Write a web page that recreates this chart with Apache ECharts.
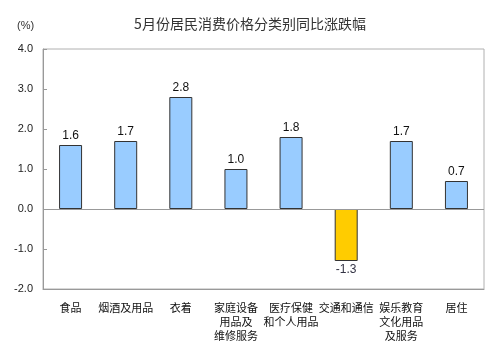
<!DOCTYPE html>
<html><head><meta charset="utf-8">
<script src="https://cdn.jsdelivr.net/npm/echarts@6/dist/echarts.min.js"></script>
<style>html,body{margin:0;padding:0;background:#fff}#c{width:500px;height:358px}</style>
</head><body><div id="c"></div>
<script>
const categories = ['食品','烟酒及用品','衣着','家庭设备\n用品及\n维修服务','医疗保健\n和个人用品','交通和通信','娱乐教育\n文化用品\n及服务','居住'];
const values = [1.6, 1.7, 2.8, 1.0, 1.8, -1.3, 1.7, 0.7];
const yTicks = {min: -2, max: 4, interval: 1};
const title = '5月份居民消费价格分类别同比涨跌幅';
const unit = '(%)';

const chart = echarts.init(document.getElementById('c'));
chart.setOption({
  animation: false,
  title: {text: title, left: 'center', top: 12, textStyle: {fontFamily: 'Noto Sans CJK SC', fontSize: 14, fontWeight: 'normal', color: '#333'}},
  graphic: [{type: 'text', left: 17, top: 20, style: {text: unit, font: '11px "Liberation Sans", Arial', fill: '#333'}}],
  grid: {left: 43, right: 16, top: 49, bottom: 69, show: true, borderColor: '#b0b0b0', borderWidth: 1},
  xAxis: {type: 'category', data: categories, axisLine: {onZero: false, lineStyle: {color: '#999'}}, axisTick: {show: false},
    axisLabel: {interval: 0, margin: 12, fontFamily: 'Noto Sans CJK SC', fontSize: 11, color: '#111', lineHeight: 14}},
  yAxis: {type: 'value', min: yTicks.min, max: yTicks.max, interval: yTicks.interval,
    axisLine: {show: true, lineStyle: {color: '#999'}}, axisTick: {show: true, inside: true, length: 4, lineStyle: {color: '#999'}},
    splitLine: {show: false},
    axisLabel: {formatter: v => v.toFixed(1), margin: 10, fontFamily: 'Liberation Sans, Arial', fontSize: 11, color: '#222'}},
  series: [{type: 'bar', barWidth: 23,
    data: values.map(v => ({value: v,
      itemStyle: {color: v < 0 ? '#FFCC00' : '#99CCFF', borderColor: '#333', borderWidth: 1},
      label: {show: true, position: v < 0 ? 'bottom' : 'top', distance: 3, formatter: p => p.value.toFixed(1),
        fontFamily: 'Liberation Sans, Arial', fontSize: 12, color: v < 0 ? '#334' : '#111'}})),
    markLine: {silent: true, symbol: 'none', label: {show: false}, lineStyle: {color: '#999', type: 'solid', width: 1}, data: [{yAxis: 0}]}
  }]
});
</script></body></html>
